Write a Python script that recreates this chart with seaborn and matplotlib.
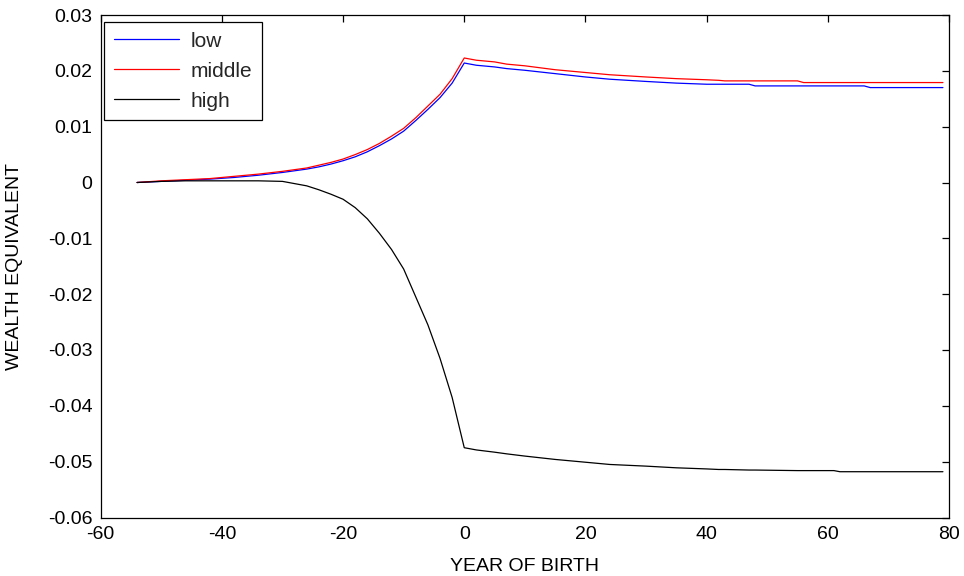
import matplotlib
matplotlib.use("Agg")
import matplotlib.pyplot as plt
import pandas as pd
import seaborn as sns

# Welfare effect (wealth equivalent) by year of birth for three income groups
years = [-54, -50, -46, -42, -38, -34, -30, -28, -26, -24, -22, -20, -18, -16,
         -14, -12, -10, -8, -6, -4, -2, 0, 2, 5, 7, 10, 15, 20, 24, 30, 35, 40,
         42, 43, 47, 48, 55, 56, 61, 62, 66, 67, 79]

low = [0.0000, 0.0002, 0.0004, 0.0006, 0.0009, 0.0013, 0.0018, 0.0021, 0.0024,
       0.0028, 0.0033, 0.0039, 0.0046, 0.0055, 0.0066, 0.0078, 0.0092, 0.0111,
       0.0131, 0.0152, 0.0178, 0.0214, 0.0210, 0.0207, 0.0204, 0.0201, 0.0195,
       0.0189, 0.0185, 0.0181, 0.0178, 0.0176, 0.0176, 0.0176, 0.0176, 0.0173,
       0.0173, 0.0173, 0.0173, 0.0173, 0.0173, 0.0170, 0.0170]

middle = [0.0000, 0.0003, 0.0005, 0.0007, 0.0011, 0.0015, 0.0020, 0.0023, 0.0026,
          0.0031, 0.0036, 0.0042, 0.0050, 0.0059, 0.0070, 0.0083, 0.0097, 0.0116,
          0.0137, 0.0158, 0.0186, 0.0223, 0.0219, 0.0216, 0.0212, 0.0209, 0.0202,
          0.0197, 0.0193, 0.0189, 0.0186, 0.0184, 0.0183, 0.0182, 0.0182, 0.0182,
          0.0182, 0.0179, 0.0179, 0.0179, 0.0179, 0.0179, 0.0179]

high = [0.0000, 0.0002, 0.0003, 0.0003, 0.0003, 0.0003, 0.0002, -0.0002, -0.0006,
        -0.0013, -0.0021, -0.0030, -0.0045, -0.0065, -0.0091, -0.0120, -0.0155,
        -0.0205, -0.0255, -0.0315, -0.0385, -0.0475, -0.0479, -0.0483, -0.0486,
        -0.0490, -0.0496, -0.0501, -0.0505, -0.0508, -0.0511, -0.0513, -0.0514,
        -0.0514, -0.0515, -0.0515, -0.0516, -0.0516, -0.0516, -0.0518, -0.0518,
        -0.0518, -0.0518]

groups = ["low", "middle", "high"]
colors = {"low": "#0000ff", "middle": "#ff0000", "high": "#000000"}

x_ticks = [-60, -40, -20, 0, 20, 40, 60, 80]
x_tick_labels = ["-60", "-40", "-20", "0", "20", "40", "60", "80"]
y_ticks = [-0.06, -0.05, -0.04, -0.03, -0.02, -0.01, 0.0, 0.01, 0.02, 0.03]
y_tick_labels = ["-0.06", "-0.05", "-0.04", "-0.03", "-0.02", "-0.01", "0",
                 "0.01", "0.02", "0.03"]

df = pd.concat(
    [pd.DataFrame({"year": years, "value": vals, "group": name})
     for name, vals in zip(groups, [low, middle, high])],
    ignore_index=True,
)

sns.set_theme(style="white")
plt.rcParams["font.family"] = ["Liberation Sans", "DejaVu Sans"]
plt.rcParams["axes.unicode_minus"] = False

fig = plt.figure(figsize=(9.64, 5.76), dpi=100)
ax = fig.add_axes([100.7 / 964, 1 - 517.5 / 576, (949 - 100.7) / 964, (517.5 - 15) / 576])

sns.lineplot(data=df, x="year", y="value", hue="group", hue_order=groups,
             palette=colors, linewidth=0.9, ax=ax, sort=True, estimator=None)

ax.set_xlim(-60, 80)
ax.set_ylim(-0.06, 0.03)
ax.set_xticks(x_ticks)
ax.set_xticklabels(x_tick_labels)
ax.set_yticks(y_ticks)
ax.set_yticklabels(y_tick_labels)
ax.tick_params(direction="in", top=True, right=True, length=5, width=0.9,
               labelsize=14, colors="black", pad=6)
ax.tick_params(axis="x", pad=6)

for sp in ax.spines.values():
    sp.set_visible(True)
    sp.set_color("black")
    sp.set_linewidth(0.9)

ax.set_xlabel("YEAR OF BIRTH", fontsize=14, color="black", labelpad=11)
ax.set_ylabel("WEALTH EQUIVALENT", fontsize=14, color="black", labelpad=18)

handles, labels = ax.get_legend_handles_labels()
leg = ax.legend(handles, labels, loc="upper left", bbox_to_anchor=(0.004, 0.986),
                borderaxespad=0, fontsize=15, handlelength=3.15, handletextpad=0.55,
                labelspacing=0.53, borderpad=0.46, fancybox=False, framealpha=1,
                edgecolor="black")
leg.get_frame().set_linewidth(0.9)
for h in leg.get_lines():
    h.set_linewidth(0.9)

fig.savefig("out.png", dpi=100, facecolor="white")
